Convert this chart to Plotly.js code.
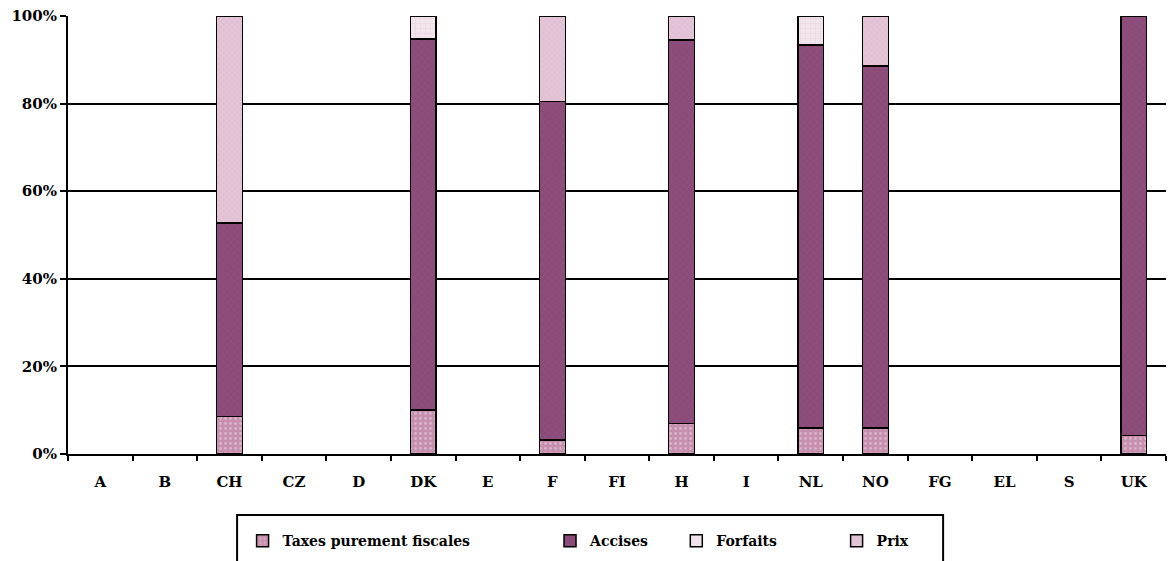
<!DOCTYPE html>
<html>
<head>
<meta charset="utf-8">
<script src="https://cdn.plot.ly/plotly-3.0.1.min.js"></script>
<style>
  html, body { margin: 0; padding: 0; background: #ffffff; }
  #chart { width: 1171px; height: 561px; }
</style>
</head>
<body>
<div id="chart"></div>
<script>
// Country codes along the horizontal axis
const countries = ["A", "B", "CH", "CZ", "D", "DK", "E", "F", "FI", "H", "I", "NL", "NO", "FG", "EL", "S", "UK"];

// Share of each component (%), one value per country (null = no data)
const taxesFiscales = [null, null, 8.6, null, null, 10.1, null, 3.2, null, 7.0, null, 5.9, 5.9, null, null, null, 4.2];
const accises       = [null, null, 44.1, null, null, 84.6, null, 77.3, null, 87.5, null, 87.5, 82.7, null, null, null, 95.8];
const forfaits      = [null, null, null, null, null, 5.3, null, null, null, null, null, 6.6, null, null, null, null, null];
const prix          = [null, null, 47.3, null, null, null, null, 19.5, null, 5.5, null, null, 11.4, null, null, null, null];

const seriesNames = ["Taxes purement fiscales", "Accises", "Forfaits", "Prix"];

const FONT = "DejaVu Serif";
const outline = { color: "#000000", width: 1.5 };

function barTrace(name, values, color, pattern, legendId) {
  return {
    type: "bar",
    name: name,
    x: countries,
    y: values,
    legend: legendId,
    marker: {
      color: color,
      line: outline,
      pattern: Object.assign({ fillmode: "overlay" }, pattern)
    },
    hoverinfo: "x+y+name"
  };
}

const traces = [
  barTrace(seriesNames[0], taxesFiscales, "#c68fae", { shape: ".", fgcolor: "#eed8e6", size: 5, solidity: 0.25 }, "legend"),
  barTrace(seriesNames[1], accises, "#8b4b79", { shape: "x", fgcolor: "#9d5a8a", size: 5, solidity: 0.2 }, "legend2"),
  barTrace(seriesNames[2], forfaits, "#f3e5ee", { shape: "+", fgcolor: "#dcc2d2", size: 5, solidity: 0.2 }, "legend3"),
  barTrace(seriesNames[3], prix, "#e4c5d7", { shape: "x", fgcolor: "#d2a6c2", size: 4, solidity: 0.25 }, "legend4")
];

// Each legend entry is placed individually inside a shared framed box
function legendAt(x) {
  return {
    x: x, xref: "paper", xanchor: "left",
    y: -0.196, yref: "paper", yanchor: "middle",
    orientation: "h",
    bgcolor: "rgba(0,0,0,0)",
    borderwidth: 0,
    itemwidth: 30,
    font: { family: FONT, size: 14, color: "#000000", weight: "bold" }
  };
}

const layout = {
  width: 1171,
  height: 561,
  margin: { l: 68, r: 5, t: 16, b: 106 },
  paper_bgcolor: "#ffffff",
  plot_bgcolor: "#ffffff",
  barmode: "stack",
  bargap: 0.6,
  showlegend: true,
  font: { family: FONT, size: 15, color: "#000000", weight: "bold" },
  xaxis: {
    type: "category",
    categoryorder: "array",
    categoryarray: countries,
    showline: true,
    linecolor: "#000000",
    linewidth: 2,
    layer: "above traces",
    ticks: "outside",
    tickson: "boundaries",
    ticklen: 5,
    tickwidth: 1.5,
    tickcolor: "#000000",
    ticklabelstandoff: 13,
    showgrid: false,
    zeroline: false,
    tickfont: { family: FONT, size: 15, color: "#000000", weight: "bold" }
  },
  yaxis: {
    range: [0, 100],
    tickmode: "linear",
    tick0: 0,
    dtick: 20,
    ticksuffix: "%",
    showline: true,
    linecolor: "#000000",
    linewidth: 2,
    ticks: "outside",
    ticklen: 6,
    tickwidth: 1.5,
    tickcolor: "#000000",
    showgrid: true,
    gridcolor: "#000000",
    gridwidth: 1.5,
    zeroline: false,
    fixedrange: true,
    tickfont: { family: FONT, size: 15, color: "#000000", weight: "bold" }
  },
  legend: legendAt(0.159),
  legend2: legendAt(0.439),
  legend3: legendAt(0.554),
  legend4: legendAt(0.700),
  shapes: [
    {
      type: "rect", xref: "paper", yref: "paper",
      x0: 0.154, x1: 0.797, y0: -0.139, y1: -0.27,
      line: { color: "#000000", width: 2 },
      fillcolor: "rgba(0,0,0,0)",
      layer: "below"
    }
  ]
};

Plotly.newPlot("chart", traces, layout, { displayModeBar: false, responsive: false });
</script>
</body>
</html>
